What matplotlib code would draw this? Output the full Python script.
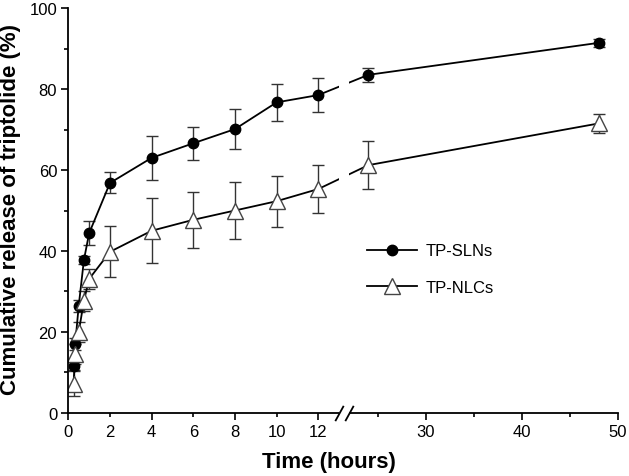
import numpy as np
import matplotlib.pyplot as plt

plt.rcParams['font.family'] = ['Liberation Sans', 'DejaVu Sans']

# release data (hours, % released, sd)
time_h = [0.25, 0.33, 0.5, 0.75, 1, 2, 4, 6, 8, 10, 12, 24, 48]
sln = [11.7, 17.0, 26.5, 37.8, 44.4, 56.8, 63.0, 66.6, 70.1, 76.7, 78.5, 83.5, 91.4]
sln_err = [1.2, 1.5, 1.5, 1.0, 3.0, 2.6, 5.4, 4.1, 5.0, 4.5, 4.2, 1.8, 1.0]
nlc = [7.2, 14.6, 20.0, 27.7, 33.1, 39.8, 45.0, 47.7, 50.0, 52.3, 55.3, 61.2, 71.5]
nlc_err = [3.1, 2.5, 2.5, 2.5, 2.5, 6.3, 8.0, 6.9, 7.0, 6.3, 6.0, 6.0, 2.3]

major_x = [0, 4, 8, 12, 30, 40, 50]
minor_x = [2, 6, 10, 25, 35, 45]
minor_lbl = ['2', '6', '10', '', '', '']

# broken time axis: 0-13 h full width, 13-22 h squeezed, 22-50 h compressed
def fwd(h):
    h = np.asarray(h, dtype=float)
    return np.where(h <= 13, h,
                    np.where(h <= 22, 13 + (h - 13) * 0.0533,
                             13.48 + (h - 22) * 0.4609))

def inv(x):
    x = np.asarray(x, dtype=float)
    return np.where(x <= 13, x,
                    np.where(x <= 13.48, 13 + (x - 13) / 0.0533,
                             22 + (x - 13.48) / 0.4609))

fig = plt.figure(figsize=(6.29, 4.77), dpi=100)
ax = fig.add_axes([0.1086, 0.1321, 0.8738, 0.849])
ax.set_xscale('function', functions=(fwd, inv))

e1 = ax.errorbar(time_h, sln, yerr=sln_err, fmt='-o', color='black', lw=1.3,
                 ms=7.5, elinewidth=1, capsize=4.5, capthick=1, ecolor='#333333')
e2 = ax.errorbar(time_h, nlc, yerr=nlc_err, fmt='-^', color='black', lw=1.3,
                 ms=11, mfc='white', mec='#444444', mew=1, elinewidth=1,
                 capsize=4.5, capthick=1, ecolor='#333333')

ax.set_xlim(0, 50)
ax.set_ylim(0, 100)

# gap in the axis and lines at the break
ax.axvspan(13, 22, ymin=-0.02, ymax=1, fc='white', ec='none', zorder=3, clip_on=False)
ax.plot([13, 22], [0, 0], transform=ax.get_xaxis_transform(), ls='none',
        marker=[(-0.55, -1), (0.55, 1)], ms=11, mec='black', mew=1.3,
        clip_on=False, zorder=5)

ax.set_xticks(major_x)
ax.set_xticks(minor_x, labels=minor_lbl, minor=True)
ax.set_yticks(np.arange(0, 101, 20))
ax.set_yticks(np.arange(10, 100, 20), minor=True)
ax.tick_params(which='major', direction='out', length=5, width=1.2, pad=3,
               labelsize=12, colors='black')
ax.tick_params(which='minor', direction='out', length=3, width=1.2, pad=5,
               labelsize=12, colors='black')

for s in ['top', 'right']:
    ax.spines[s].set_visible(False)
for s in ['left', 'bottom']:
    ax.spines[s].set_linewidth(1.3)

ax.set_xlabel('Time (hours)', fontsize=16, fontweight='bold')
ax.xaxis.set_label_coords(0.474, -0.095)
ax.set_ylabel('Cumulative release of triptolide (%)', fontsize=16, fontweight='bold')
ax.yaxis.set_label_coords(-0.086, 0.505)

ax.legend([e1[0], e2[0]], ['TP-SLNs', 'TP-NLCs'], loc='center left',
          bbox_to_anchor=(0.517, 0.355), frameon=False, fontsize=12,
          handlelength=3.0, handletextpad=0.5, labelspacing=1.3)

fig.savefig('out.png', dpi=100)
